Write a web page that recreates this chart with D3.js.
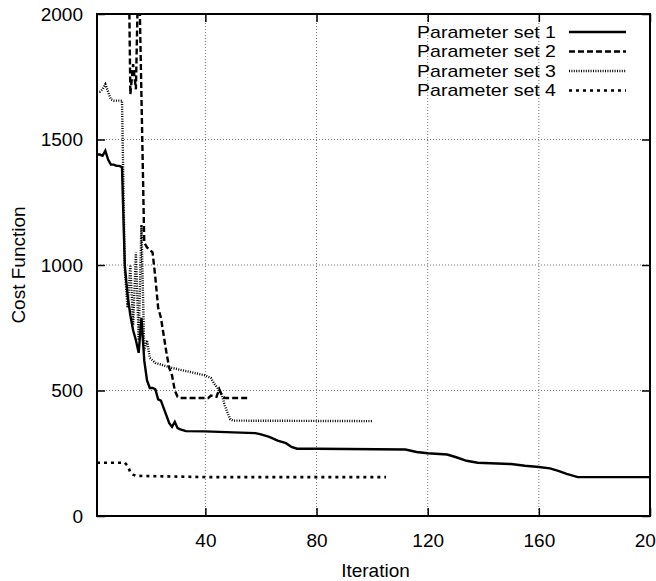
<!DOCTYPE html>
<html>
<head>
<meta charset="utf-8">
<script src="https://cdn.jsdelivr.net/npm/d3@7"></script>
<style>
  body { margin: 0; background: #fff; }
  text { font-family: "Liberation Sans", Arial, Helvetica, sans-serif; fill: #000; }
</style>
</head>
<body>
<div id="chart"></div>
<script>
// data (iteration, cost function)
let seriesNames = ["Parameter set 1", "Parameter set 2", "Parameter set 3", "Parameter set 4"];

let set1Iter = [1, 2, 3, 4, 5, 6, 7, 8, 9, 10, 11, 12, 13, 14, 15, 16, 17, 18, 19, 20, 21, 22, 23, 24, 25, 26, 27, 28, 29, 30, 31, 33, 40, 50, 58, 60, 63, 66, 69, 71, 73, 80, 112, 116, 120, 127, 130, 134, 138, 150, 155, 160, 164, 167, 170, 174, 200];
let set1Cost = [1440, 1440, 1435, 1455, 1420, 1400, 1400, 1395, 1395, 1390, 1000, 880, 800, 740, 700, 650, 790, 620, 540, 510, 510, 505, 465, 460, 430, 400, 370, 355, 375, 350, 345, 338, 337, 333, 330, 325, 315, 300, 290, 275, 268, 268, 265, 255, 250, 245, 235, 220, 212, 207, 200, 195, 190, 180, 168, 155, 155];

let set2Iter = [11, 12, 13, 14, 15, 16, 18, 19, 21, 22, 23, 24, 25, 26, 27, 28, 29, 30, 31, 41, 42, 44, 45, 46, 47, 56];
let set2Cost = [2600, 2600, 1680, 1800, 1700, 2250, 1090, 1070, 1050, 950, 830, 790, 720, 650, 590, 560, 500, 475, 470, 470, 480, 475, 505, 480, 470, 470];

let set3Iter = [1, 2, 3, 4, 5, 6, 7, 10, 11, 12, 13, 14, 15, 16, 17, 18, 19, 20, 21, 22, 25, 28, 32, 36, 40, 42, 43, 44, 45, 46, 47, 48, 49, 50, 100];
let set3Cost = [1690, 1690, 1700, 1720, 1690, 1660, 1655, 1655, 980, 830, 1000, 760, 1050, 700, 1160, 660, 700, 630, 620, 610, 600, 590, 580, 570, 560, 550, 530, 515, 500, 480, 440, 410, 385, 380, 378];

let set4Iter = [1, 11, 12, 13, 14, 15, 30, 40, 105];
let set4Cost = [212, 212, 200, 175, 165, 160, 157, 155, 155];

let xTicks = [40, 80, 120, 160, 200];
let yTicks = [0, 500, 1000, 1500, 2000];

let svgWidth = 656;
let svgHeight = 581;
let margin = { top: 14, right: 6, bottom: 65, left: 97 };
let width = svgWidth - margin.left - margin.right;
let height = svgHeight - margin.top - margin.bottom;

let svg = d3.select("#chart")
    .append("svg")
    .attr("width", svgWidth)
    .attr("height", svgHeight);

let chartGroup = svg.append("g")
    .attr("transform", `translate(${margin.left}, ${margin.top})`);

let xScale = d3.scaleLinear().domain([1, 200]).range([0, width]);
let yScale = d3.scaleLinear().domain([0, 2000]).range([height, 0]);

// grid
chartGroup.selectAll(".vgrid")
    .data(xTicks.filter(d => d < 200))
    .enter().append("line")
    .attr("x1", d => xScale(d)).attr("x2", d => xScale(d))
    .attr("y1", 0).attr("y2", height)
    .attr("stroke", "#777").attr("stroke-width", 1)
    .attr("stroke-dasharray", "1,2");

chartGroup.selectAll(".hgrid")
    .data(yTicks.filter(d => d > 0 && d < 2000))
    .enter().append("line")
    .attr("x1", 0).attr("x2", width)
    .attr("y1", d => yScale(d)).attr("y2", d => yScale(d))
    .attr("stroke", "#777").attr("stroke-width", 1)
    .attr("stroke-dasharray", "1,2");

// axes, ticks inside and mirrored
let tickLen = 8;
let bottomAxis = d3.axisBottom(xScale).tickValues(xTicks).tickSizeInner(-tickLen).tickSizeOuter(0).tickPadding(18).tickFormat(d3.format("d"));
let leftAxis = d3.axisLeft(yScale).tickValues(yTicks).tickSizeInner(-tickLen).tickSizeOuter(0).tickPadding(14).tickFormat(d3.format("d"));
let topAxis = d3.axisTop(xScale).tickValues(xTicks).tickSizeInner(-tickLen).tickSizeOuter(0).tickFormat("");
let rightAxis = d3.axisRight(yScale).tickValues(yTicks).tickSizeInner(-tickLen).tickSizeOuter(0).tickFormat("");

function styleAxis(g) {
    g.select(".domain").remove();
    g.selectAll(".tick line").attr("stroke", "#000").attr("stroke-width", 1.5);
    g.selectAll(".tick text").attr("font-size", "19px").attr("fill", "#000")
        .attr("font-family", "'Liberation Sans', Arial, sans-serif");
}

chartGroup.append("g").attr("transform", `translate(0, ${height})`).call(bottomAxis).call(styleAxis);
chartGroup.append("g").call(leftAxis).call(styleAxis);
chartGroup.append("g").call(topAxis).call(styleAxis);
chartGroup.append("g").attr("transform", `translate(${width}, 0)`).call(rightAxis).call(styleAxis);

// clip for lines leaving the top
svg.append("defs").append("clipPath").attr("id", "plotClip")
    .append("rect").attr("x", 0).attr("y", 0).attr("width", width).attr("height", height);

let lineGen = d3.line().x(d => xScale(d[0])).y(d => yScale(d[1]));

let series = [
    { iter: set1Iter, cost: set1Cost, dash: null, w: 2.4 },
    { iter: set2Iter, cost: set2Cost, dash: "6,3", w: 2.4 },
    { iter: set3Iter, cost: set3Cost, dash: "1,1.4", w: 2.4 },
    { iter: set4Iter, cost: set4Cost, dash: "3,4", w: 2.6 }
];

let lineGroup = chartGroup.append("g").attr("clip-path", "url(#plotClip)");
series.forEach(function (s) {
    let pts = s.iter.map((d, i) => [d, s.cost[i]]);
    lineGroup.append("path")
        .attr("d", lineGen(pts))
        .attr("fill", "none")
        .attr("stroke", "#000")
        .attr("stroke-width", s.w)
        .attr("stroke-dasharray", s.dash);
});

// border
chartGroup.append("rect")
    .attr("x", 0).attr("y", 0).attr("width", width).attr("height", height)
    .attr("fill", "none").attr("stroke", "#000").attr("stroke-width", 2);

// legend
let legendGroup = chartGroup.append("g");
series.forEach(function (s, i) {
    let y = 18 + i * 19.5;
    legendGroup.append("text")
        .attr("x", 459).attr("y", y)
        .attr("dy", "0.35em")
        .attr("text-anchor", "end")
        .attr("font-size", "17px")
        .attr("textLength", 139)
        .attr("lengthAdjust", "spacingAndGlyphs")
        .text(seriesNames[i]);
    legendGroup.append("line")
        .attr("x1", 472).attr("x2", 529)
        .attr("y1", y).attr("y2", y)
        .attr("stroke", "#000")
        .attr("stroke-width", s.w)
        .attr("stroke-dasharray", s.dash);
});

// axis labels
chartGroup.append("text")
    .attr("transform", "rotate(-90)")
    .attr("x", -height / 2)
    .attr("y", -72)
    .attr("text-anchor", "middle")
    .attr("font-size", "19px")
    .text("Cost Function");

chartGroup.append("text")
    .attr("x", width / 2 + 2)
    .attr("y", height + 61)
    .attr("text-anchor", "middle")
    .attr("font-size", "19px")
    .text("Iteration");
</script>
</body>
</html>
